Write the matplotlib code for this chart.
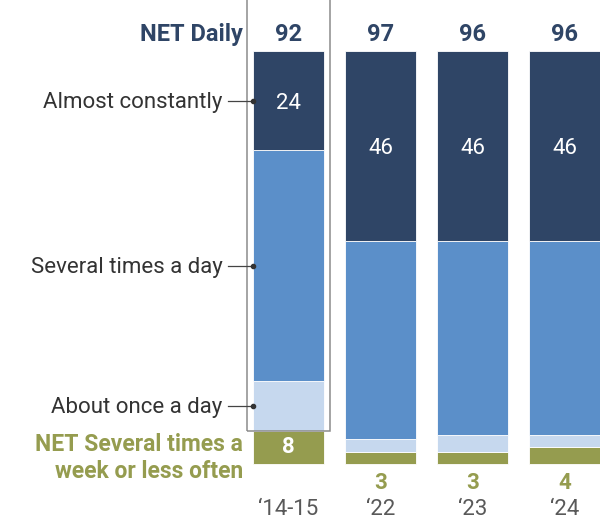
import matplotlib.pyplot as plt
from matplotlib.patches import Rectangle

plt.rcParams['font.family'] = ['Roboto', 'DejaVu Sans']

# 数据
years = ['\u201814-15', '\u201822', '\u201823', '\u201824']
almost_constantly = [24, 46, 46, 46]
several_a_day = [56, 48, 47, 47]
once_a_day = [12, 3, 4, 3]
weekly_or_less = [8, 3, 3, 4]
net_daily = [92, 97, 96, 96]

navy = '#2f4566'
blue = '#5b8fc9'
light = '#c6d8ee'
olive = '#959c4f'
grey_txt = '#595959'

fig = plt.figure(figsize=(6, 5.2), dpi=100)
ax = fig.add_axes([0, 0, 1, 1])
ax.set_xlim(-3.136, 3.386)
ax.set_ylim(-13.56, 112.35)
ax.axis('off')

x = list(range(len(years)))
w = 0.77

# 堆叠柱状图（从下往上）
ax.bar(x, weekly_or_less, w, color=olive, edgecolor='white', linewidth=0.6)
b1 = weekly_or_less
ax.bar(x, once_a_day, w, bottom=b1, color=light, edgecolor='white', linewidth=0.6)
b2 = [a + b for a, b in zip(b1, once_a_day)]
ax.bar(x, several_a_day, w, bottom=b2, color=blue, edgecolor='white', linewidth=0.6)
b3 = [a + b for a, b in zip(b2, several_a_day)]
ax.bar(x, almost_constantly, w, bottom=b3, color=navy, edgecolor='white', linewidth=0.6)

fs = 16
for i in x:
    # 顶部 NET Daily 数值
    ax.text(i, 104.0, str(net_daily[i]), ha='center', va='center',
            fontsize=fs + 1, fontweight='bold', color=navy)
    # 几乎一直在线
    ax.text(i, b3[i] + almost_constantly[i] / 2 - 0.6, str(almost_constantly[i]),
            ha='center', va='center', fontsize=fs, color='white')
    # 每周几次或更少
    if weekly_or_less[i] >= 5:
        ax.text(i, weekly_or_less[i] / 2, str(weekly_or_less[i]), ha='center',
                va='center', fontsize=fs, fontweight='bold', color='white')
    else:
        ax.text(i, -4.6, str(weekly_or_less[i]), ha='center', va='center',
                fontsize=fs, fontweight='bold', color=olive)
    ax.text(i, -11.0, years[i], ha='center', va='center', fontsize=fs,
            color=grey_txt)

# 第一根柱子的外框
ax.add_patch(Rectangle((-w / 2 - 0.065, weekly_or_less[0]), w + 0.13,
                       100 - weekly_or_less[0] + 13.6, fill=False,
                       edgecolor='#8c8c8c', linewidth=1.1, clip_on=False))

# 左侧类别标签
left = -w / 2
labels = [('Almost constantly', b3[0] + almost_constantly[0] / 2),
          ('Several times a day', b2[0] + several_a_day[0] / 2),
          ('About once a day', b1[0] + once_a_day[0] / 2)]
for txt, y in labels:
    ax.plot([left - 0.27, left], [y, y], color='#444444', linewidth=0.9)
    ax.plot([left], [y], 'o', color='#333333', markersize=3)
    ax.text(left - 0.33, y - 0.4, txt, ha='right', va='center', fontsize=fs,
            color='#333333')

ax.text(-0.495, 104.0, 'NET Daily', ha='right', va='center', fontsize=fs + 1,
        fontweight='bold', color=navy)
ax.text(-0.495, 1.5, 'NET Several times a\nweek or less often', ha='right',
        va='center', fontsize=fs + 0.5, fontweight='bold', color=olive,
        linespacing=1.2)

fig.savefig('out.png', dpi=100)
